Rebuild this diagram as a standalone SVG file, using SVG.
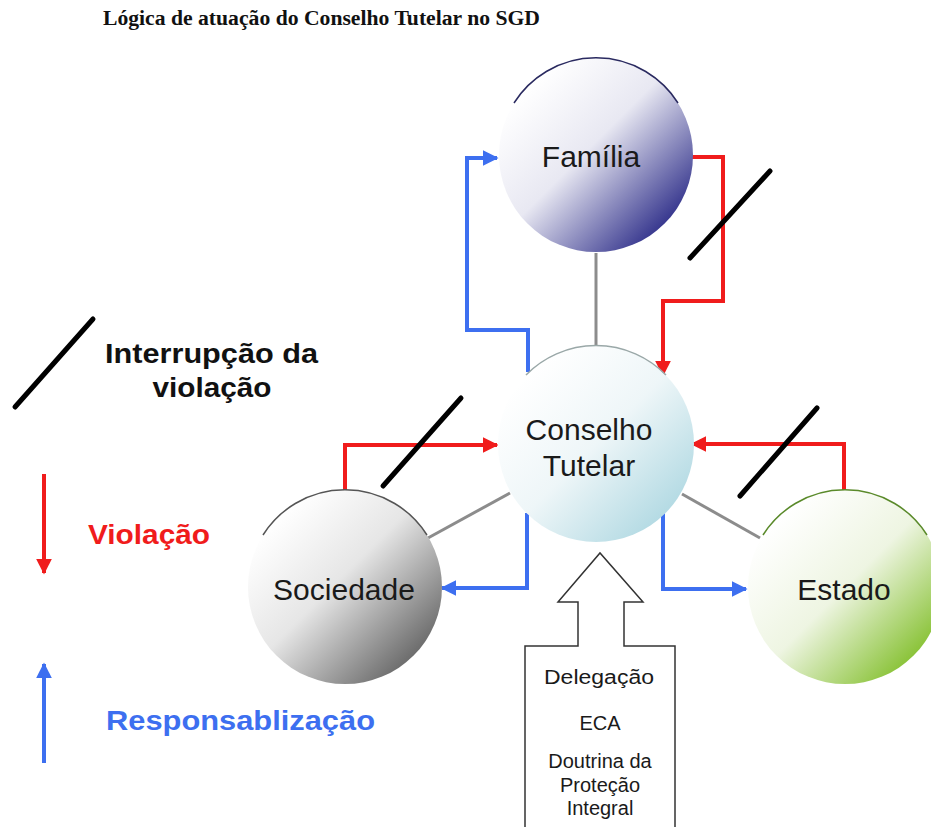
<svg xmlns="http://www.w3.org/2000/svg" width="931" height="827" viewBox="0 0 931 827">
<style>
.node{font-family:"Liberation Sans",Arial,sans-serif;font-size:30px;fill:#1a1a1a;text-anchor:middle}
.red{fill:none;stroke:#f01c1c;stroke-width:4}
.blue{fill:none;stroke:#3d6ff0;stroke-width:4}
.gray{fill:none;stroke:#8c8c8c;stroke-width:3}
.slash{stroke:#000;stroke-width:5;stroke-linecap:round}
.box{font-family:"Liberation Sans",Arial,sans-serif;font-size:20px;fill:#1a1a1a;text-anchor:middle}
.leg{font-family:"Liberation Sans",Arial,sans-serif;font-weight:bold;font-size:28px}
</style>
<defs>
<marker id="ar" viewBox="0 0 10 10" refX="9" refY="5" markerWidth="4" markerHeight="4" orient="auto" markerUnits="strokeWidth"><path d="M0,0L10,5L0,10z" fill="#f01c1c"/></marker>
<marker id="ab" viewBox="0 0 10 10" refX="9" refY="5" markerWidth="4" markerHeight="4" orient="auto" markerUnits="strokeWidth"><path d="M0,0L10,5L0,10z" fill="#3d6ff0"/></marker>
<linearGradient id="gf" x1="0.15" y1="0.15" x2="0.85" y2="0.85"><stop offset="0" stop-color="#ffffff"/><stop offset="0.45" stop-color="#e8e8f2"/><stop offset="1" stop-color="#3a3a90"/></linearGradient>
<linearGradient id="gc" x1="0.15" y1="0.15" x2="0.85" y2="0.85"><stop offset="0" stop-color="#ffffff"/><stop offset="0.5" stop-color="#eef6f8"/><stop offset="1" stop-color="#b5dbe4"/></linearGradient>
<linearGradient id="gs" x1="0.15" y1="0.15" x2="0.85" y2="0.85"><stop offset="0" stop-color="#ffffff"/><stop offset="0.45" stop-color="#e6e6e6"/><stop offset="1" stop-color="#6e6e6e"/></linearGradient>
<linearGradient id="ge" x1="0.15" y1="0.15" x2="0.85" y2="0.85"><stop offset="0" stop-color="#ffffff"/><stop offset="0.5" stop-color="#eef5e2"/><stop offset="1" stop-color="#8cc43c"/></linearGradient>
</defs>
<rect width="931" height="827" fill="#ffffff"/>
<text x="103" y="25" font-family="'Liberation Serif','Times New Roman',serif" font-weight="bold" font-size="20" fill="#111" textLength="437" lengthAdjust="spacingAndGlyphs">Lógica de atuação do Conselho Tutelar no SGD</text>

<g id="connectors">
<line class="gray" x1="596" y1="253" x2="596" y2="346"/>
<line class="gray" x1="510" y1="493" x2="428" y2="538"/>
<line class="gray" x1="682" y1="494" x2="760" y2="538"/>
<polyline class="blue" points="528,372 528,330 467,330 467,158 497,158" marker-end="url(#ab)"/>
<polyline class="red" points="692,157 723,157 723,301 663,301 663,375" marker-end="url(#ar)"/>
<polyline class="red" points="345,490 345,445 497,445" marker-end="url(#ar)"/>
<polyline class="blue" points="527,513 527,588 442,588" marker-end="url(#ab)"/>
<polyline class="blue" points="663,513 663,589 746,589" marker-end="url(#ab)"/>
<polyline class="red" points="844,490 844,444 692,444" marker-end="url(#ar)"/>
<line class="slash" x1="690" y1="258" x2="770" y2="171"/>
<line class="slash" x1="383" y1="486" x2="461" y2="398"/>
<line class="slash" x1="740" y1="496" x2="817" y2="408"/>
</g>

<g id="familia">
<circle cx="596" cy="155" r="97" fill="url(#gf)"/>
<path d="M514,103 A97,97 0 0 1 678,103" fill="none" stroke="#2a2a60" stroke-width="1.5"/>
<text class="node" x="591" y="167">Família</text>
</g>
<g id="conselho">
<circle cx="596" cy="444" r="98" fill="url(#gc)"/>
<path d="M526,375 A98,98 0 0 1 666,375" fill="none" stroke="#9aa8a8" stroke-width="1.5"/>
<text class="node" x="589" y="440">Conselho</text>
<text class="node" x="589" y="476">Tutelar</text>
</g>
<g id="sociedade">
<circle cx="345" cy="587" r="97" fill="url(#gs)"/>
<path d="M263,535 A97,97 0 0 1 427,535" fill="none" stroke="#555" stroke-width="1.5"/>
<text class="node" x="344" y="600">Sociedade</text>
</g>
<g id="estado">
<circle cx="845" cy="587" r="97" fill="url(#ge)"/>
<path d="M763,535 A97,97 0 0 1 927,535" fill="none" stroke="#5a8a2a" stroke-width="1.5"/>
<text class="node" x="844" y="600">Estado</text>
</g>

<g id="delegacao">
<path d="M525,827 L525,646 L578,646 L578,602 L558,602 L600,553 L643,602 L624,602 L624,646 L675,646 L675,827" fill="#fff" stroke="#333" stroke-width="1.5"/>
<text class="box" x="599" y="684" font-size="21" textLength="110" lengthAdjust="spacingAndGlyphs">Delegação</text>
<text class="box" x="600" y="730">ECA</text>
<text class="box" x="600" y="768">Doutrina da</text>
<text class="box" x="600" y="792">Proteção</text>
<text class="box" x="600" y="815">Integral</text>
</g>

<g id="legend">
<line class="slash" x1="15" y1="407" x2="93" y2="319"/>
<text class="leg" x="105" y="363" fill="#111" textLength="213" lengthAdjust="spacingAndGlyphs">Interrupção  da</text>
<text class="leg" x="212" y="397" fill="#111" text-anchor="middle" textLength="119" lengthAdjust="spacingAndGlyphs">violação</text>
<line x1="44" y1="474" x2="44" y2="573" class="red" marker-end="url(#ar)"/>
<text class="leg" x="88" y="544" fill="#f01c1c" textLength="122" lengthAdjust="spacingAndGlyphs">Violação</text>
<line x1="44" y1="763" x2="44" y2="664" class="blue" marker-end="url(#ab)"/>
<text class="leg" x="106" y="730" fill="#3d6ff0" textLength="269" lengthAdjust="spacingAndGlyphs">Responsablização</text>
</g>
</svg>
